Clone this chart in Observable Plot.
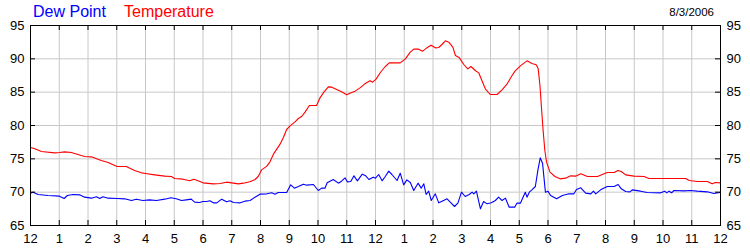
<!DOCTYPE html>
<html><head><meta charset="utf-8">
<script src="https://cdn.jsdelivr.net/npm/d3@7"></script>
<script src="https://cdn.jsdelivr.net/npm/@observablehq/plot@0.6"></script>
<style>
body{margin:0;background:#fff;}
#wrap{position:relative;width:750px;height:250px;font-family:"Liberation Sans",Arial,sans-serif;}
#wrap svg{position:absolute;left:0;top:0;}
.lbl{position:absolute;white-space:nowrap;line-height:1;z-index:2;}
#dewLbl{left:33px;top:4px;font-size:16px;color:#0000ff;}
#tempLbl{left:124px;top:4px;font-size:16px;color:#ff0000;}
#dateLbl{right:36px;top:7px;font-size:11.5px;color:#000;}
</style></head><body>
<div id="wrap">
<div class="lbl" id="dewLbl">Dew Point</div>
<div class="lbl" id="tempLbl">Temperature</div>
<div class="lbl" id="dateLbl">8/3/2006</div>
</div>
<script>
const hourTicks = d3.range(0, 25);
const hourLabels = ["12","1","2","3","4","5","6","7","8","9","10","11","12","1","2","3","4","5","6","7","8","9","10","11","12"];
const tempTicks = [65, 70, 75, 80, 85, 90, 95];

const temperature = [[0,76.7],[0.15,76.5],[0.38,76.1],[0.84,75.9],[1.01,75.95],[1.19,76.05],[1.42,75.95],[1.65,75.65],[1.88,75.35],[2.12,75.3],[2.46,74.75],[2.70,74.45],[3.01,73.85],[3.33,73.85],[3.62,73.25],[3.86,72.9],[4.0,72.8],[4.32,72.6],[4.67,72.4],[4.90,72.35],[5.01,72.05],[5.30,71.95],[5.54,71.7],[5.68,71.95],[5.83,71.7],[6.0,71.4],[6.36,71.25],[6.59,71.3],[6.82,71.5],[7.0,71.4],[7.23,71.25],[7.40,71.35],[7.63,71.55],[7.81,71.9],[7.92,72.35],[8.04,73.35],[8.22,73.9],[8.33,74.55],[8.45,75.7],[8.68,77.2],[8.80,78.25],[8.91,79.4],[9.03,79.95],[9.20,80.55],[9.32,81.05],[9.43,81.35],[9.55,82.0],[9.70,83.0],[9.95,83.0],[10.07,84.15],[10.21,85.05],[10.36,85.8],[10.48,85.75],[10.65,85.4],[10.82,85.05],[11.0,84.6],[11.11,84.85],[11.29,85.15],[11.46,85.65],[11.63,86.25],[11.81,86.7],[11.90,86.5],[12.02,86.95],[12.17,87.95],[12.34,88.85],[12.48,89.4],[12.86,89.4],[13.04,90.0],[13.21,91.0],[13.33,91.45],[13.50,91.45],[13.64,91.15],[13.79,91.65],[13.93,92.05],[14.08,91.65],[14.20,91.7],[14.31,92.15],[14.43,92.7],[14.55,92.5],[14.69,91.75],[14.78,90.5],[14.92,90.15],[15.07,89.15],[15.21,88.5],[15.32,88.85],[15.47,88.25],[15.59,87.9],[15.70,86.75],[15.82,85.5],[15.99,84.65],[16.23,84.65],[16.40,85.35],[16.58,86.25],[16.75,87.5],[16.86,88.2],[17.04,88.95],[17.27,89.7],[17.44,89.3],[17.59,89.1],[17.66,88.5],[17.72,86.0],[17.78,82.25],[17.83,79.25],[17.89,76.25],[17.95,74.5],[18.07,73.0],[18.24,72.35],[18.42,72.0],[18.61,72.1],[18.79,72.45],[18.96,72.4],[19.14,72.75],[19.37,72.35],[19.72,72.35],[19.89,72.65],[20.06,72.95],[20.30,72.95],[20.43,73.25],[20.55,73.1],[20.70,72.6],[20.99,72.4],[21.34,72.35],[21.51,72.05],[22.79,72.05],[22.91,71.75],[23.19,71.6],[23.54,71.6],[23.71,71.25],[23.82,71.45],[24.0,71.4]];

const dewPoint = [[0,69.85],[0.09,70.0],[0.26,69.65],[0.61,69.5],[1.01,69.4],[1.17,69.05],[1.28,69.5],[1.48,69.65],[1.71,69.6],[1.88,69.25],[2.12,69.1],[2.29,69.3],[2.41,69.05],[2.52,69.3],[2.70,69.1],[3.01,69.05],[3.28,69.0],[3.51,68.75],[3.68,68.95],[3.91,68.75],[4.14,68.85],[4.38,68.75],[4.67,68.95],[4.88,69.15],[5.07,69.0],[5.25,68.75],[5.42,68.85],[5.59,68.95],[5.71,68.5],[5.88,68.45],[6.0,68.6],[6.13,68.6],[6.24,68.7],[6.36,68.4],[6.48,68.4],[6.65,68.95],[6.82,68.55],[6.94,68.7],[7.06,68.45],[7.29,68.4],[7.46,68.65],[7.64,68.75],[7.81,69.25],[7.98,69.7],[8.22,69.75],[8.39,69.9],[8.50,69.7],[8.62,69.95],[8.91,69.95],[9.05,71.1],[9.18,70.6],[9.32,70.85],[9.49,71.2],[9.61,71.05],[9.84,71.15],[10.01,70.25],[10.13,70.6],[10.24,70.6],[10.32,71.4],[10.53,71.9],[10.71,71.35],[10.82,71.65],[10.94,72.15],[11.02,71.55],[11.14,71.6],[11.25,72.45],[11.37,71.7],[11.54,72.7],[11.66,72.45],[11.77,71.9],[11.92,72.25],[12.0,72.1],[12.11,72.65],[12.23,71.7],[12.34,72.35],[12.46,73.15],[12.57,72.65],[12.75,71.75],[12.86,72.85],[12.98,71.1],[13.09,71.85],[13.21,71.45],[13.33,70.25],[13.48,71.35],[13.59,70.6],[13.68,71.25],[13.76,69.65],[13.85,70.15],[13.94,68.75],[14.08,69.75],[14.20,68.4],[14.37,68.75],[14.49,69.0],[14.60,68.5],[14.75,67.85],[14.87,68.4],[14.99,70.0],[15.12,69.35],[15.26,69.65],[15.36,70.0],[15.42,69.75],[15.51,70.15],[15.65,67.5],[15.76,68.6],[15.88,68.25],[16.03,68.4],[16.17,68.75],[16.28,69.25],[16.40,68.75],[16.52,69.1],[16.65,67.75],[16.84,67.75],[16.92,68.35],[17.04,68.35],[17.21,70.0],[17.27,69.25],[17.35,70.0],[17.44,70.35],[17.56,70.85],[17.65,73.35],[17.73,75.15],[17.81,74.35],[17.91,70.0],[18.0,70.15],[18.09,69.5],[18.30,69.0],[18.50,69.5],[18.73,69.75],[18.90,69.75],[18.99,70.4],[19.14,70.65],[19.31,69.85],[19.49,69.75],[19.58,70.15],[19.66,69.75],[19.83,70.35],[20.06,70.85],[20.30,70.85],[20.44,71.15],[20.55,70.5],[20.70,70.1],[20.85,70.05],[20.93,70.35],[21.22,70.15],[21.45,69.95],[21.92,69.9],[22.06,70.15],[22.13,69.9],[22.21,70.15],[22.30,69.9],[22.38,70.25],[22.73,70.2],[22.96,70.25],[23.19,70.15],[23.54,70.05],[23.77,69.8],[23.98,69.95]];

const W = 750, H = 250, mL = 30, mR = 30, mT = 25, mB = 25;
const fw = W - mL - mR, fh = H - mT - mB, tk = 5;

const chart = Plot.plot({
  width: W, height: H,
  marginLeft: mL, marginRight: mR, marginTop: mT, marginBottom: mB,
  style: {fontFamily: "'Liberation Sans', Arial, sans-serif", fontSize: "13px", background: "transparent", color: "#000", overflow: "visible"},
  x: {domain: [0, 24]},
  y: {domain: [65, 95]},
  marks: [
    Plot.ruleX(hourTicks, {x: d => d, stroke: "#c8c8c8"}),
    Plot.ruleY(tempTicks, {y: d => d, stroke: "#c8c8c8"}),
    Plot.line(dewPoint, {x: d => d[0], y: d => d[1], stroke: "#0000ff", strokeWidth: 1.1}),
    Plot.line(temperature, {x: d => d[0], y: d => d[1], stroke: "#ff0000", strokeWidth: 1.1}),
    Plot.ruleX(hourTicks, {x: d => d, stroke: "#000", insetBottom: fh - tk}),
    Plot.ruleX(hourTicks, {x: d => d, stroke: "#000", insetTop: fh - tk}),
    Plot.ruleY(tempTicks, {y: d => d, stroke: "#000", insetRight: fw - tk}),
    Plot.ruleY(tempTicks, {y: d => d, stroke: "#000", insetLeft: fw - tk}),
    Plot.frame({stroke: "#000"}),
    Plot.axisX(hourTicks, {anchor: "bottom", tickSize: 0, tickPadding: 8, tickFormat: (d, i) => hourLabels[i], fill: "#000"}),
    Plot.axisY(tempTicks, {anchor: "left", tickSize: 0, tickPadding: 6, fill: "#000"}),
    Plot.axisY(tempTicks, {anchor: "right", tickSize: 0, tickPadding: 6, fill: "#000"})
  ]
});
document.getElementById("wrap").appendChild(chart);
</script>
</body></html>
